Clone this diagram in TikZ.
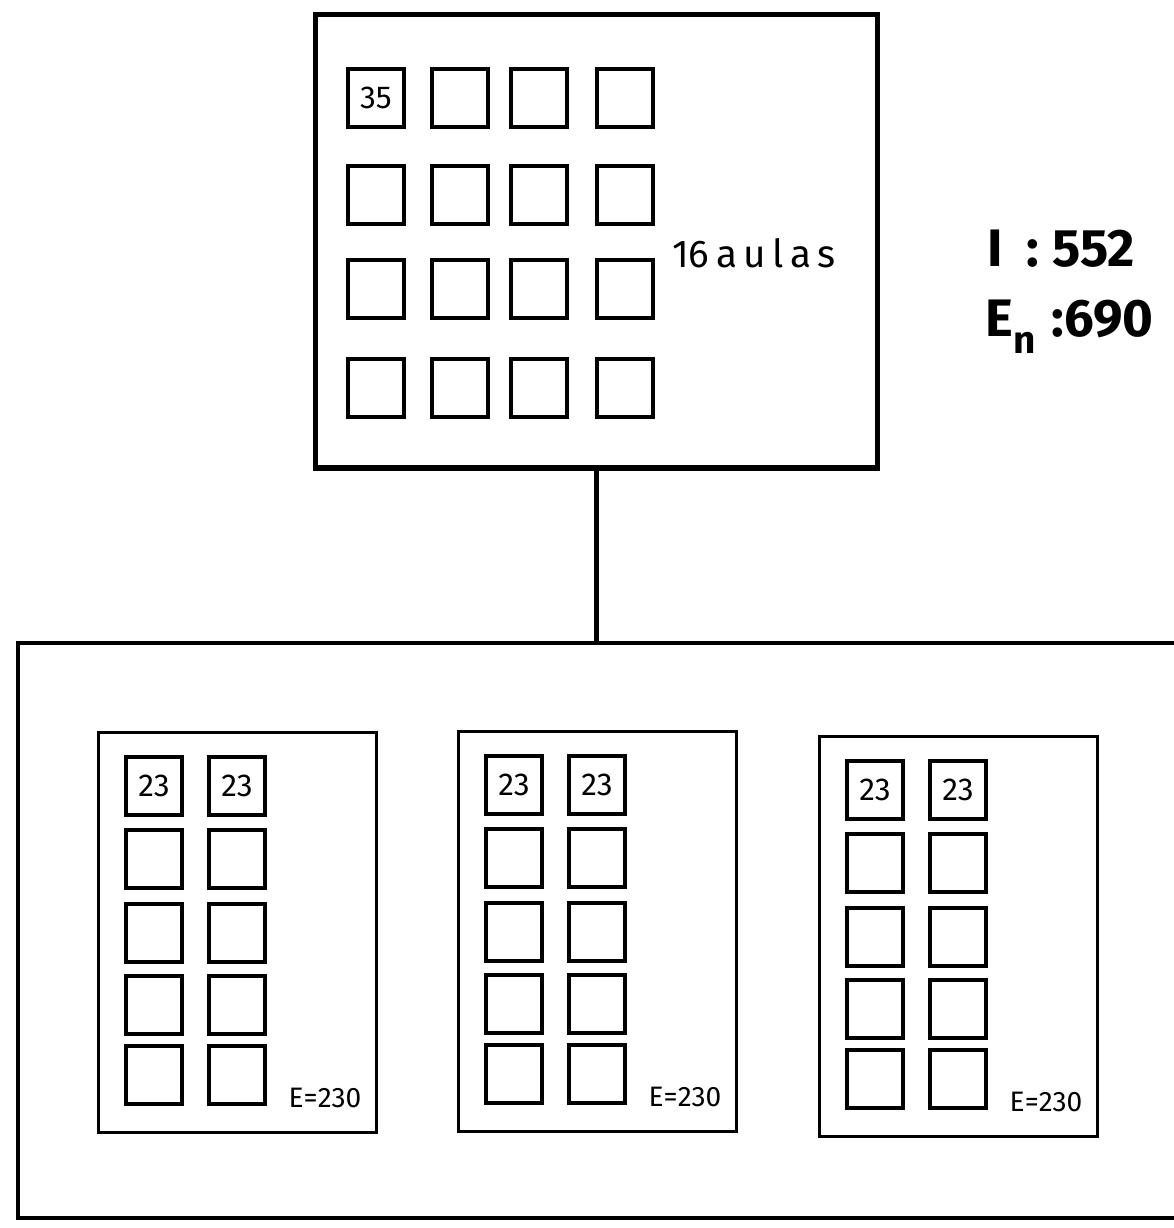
\documentclass[tikz,border=0pt]{standalone}
\usepackage{fontspec}
\setsansfont{Fira Sans}
\usetikzlibrary{positioning}
\tikzset{
  block/.style={
    shape = rectangle,
    draw,
    line width = 1.5pt,
    inner sep = 0pt
  },
  wing/.style={
    shape = rectangle,
    draw,
    line width = 0.75pt,
    minimum width = 2.78cm,
    minimum height = 4.0cm,
    anchor = north west,
    inner sep = 0pt
  },
  room/.style={
    shape = rectangle,
    draw,
    line width = 0.9pt,
    minimum width = 0.56cm,
    minimum height = 0.58cm,
    inner sep = 0pt
  },
  tag/.style={
    font = \sffamily\fontsize{9}{9}\selectfont,
    inner sep = 1pt
  },
  note/.style={
    font = \sffamily\fontsize{8}{8}\selectfont,
    inner sep = 1pt
  },
  total/.style={
    font = \sffamily\bfseries\fontsize{15}{15}\selectfont,
    anchor = base west,
    inner sep = 0pt
  }
}
\begin{document}
\begin{tikzpicture}[x=0.01cm, y=-0.01cm]
  \useasboundingbox (0,0) rectangle (1174,1228);

  % main building
  \node[block, minimum width=5.61cm, minimum height=4.53cm] (school) at (596.5,241.5) {};
  \foreach \c/\x in {1/376,2/460,3/539,4/625}
    \foreach \r/\y in {1/98,2/195,3/289,4/388}
      \node[room] (top\r\c) at (\x,\y) {};
  \node[tag] (n35) at (top11) {35};
  \node[tag, anchor=west, font=\sffamily\fontsize{11}{11}\selectfont] (aulas) at (668,253) {16\,a\,u\,l\,a\,s};

  \node[total] (ins) at (987,267) {I\hspace{0.45em}: 552};
  \node[total] (enr) at (985,337) {E\raisebox{-0.6ex}{\fontsize{11}{11}\selectfont n}\hspace{0.3em}:690};

  % annex
  \node[draw, line width=1.2pt, minimum width=11.72cm, minimum height=5.75cm, inner sep=0pt] (campus) at (604,930.5) {};
  \draw[line width=1.2pt] (school.south) -- (school.south |- campus.north);

  \foreach \b/\x/\y in {1/97/731, 2/457/730, 3/818/735}{
    \node[wing] (wing\b) at (\x,\y) {};
    \foreach \c/\dx in {1/57,2/140}{
      \node[room] (room\b1\c) at (\x+\dx,\y+55) {};
      \node[tag] (cap\b\c) at (room\b1\c) {23};
      \foreach \r/\dy in {2/128,3/202,4/274,5/344}
        \node[room] (room\b\r\c) at (\x+\dx,\y+\dy) {};
    }
    \node[note] (sum\b) at (\x+228,\y+367) {E=230};
  }
\end{tikzpicture}
\end{document}
